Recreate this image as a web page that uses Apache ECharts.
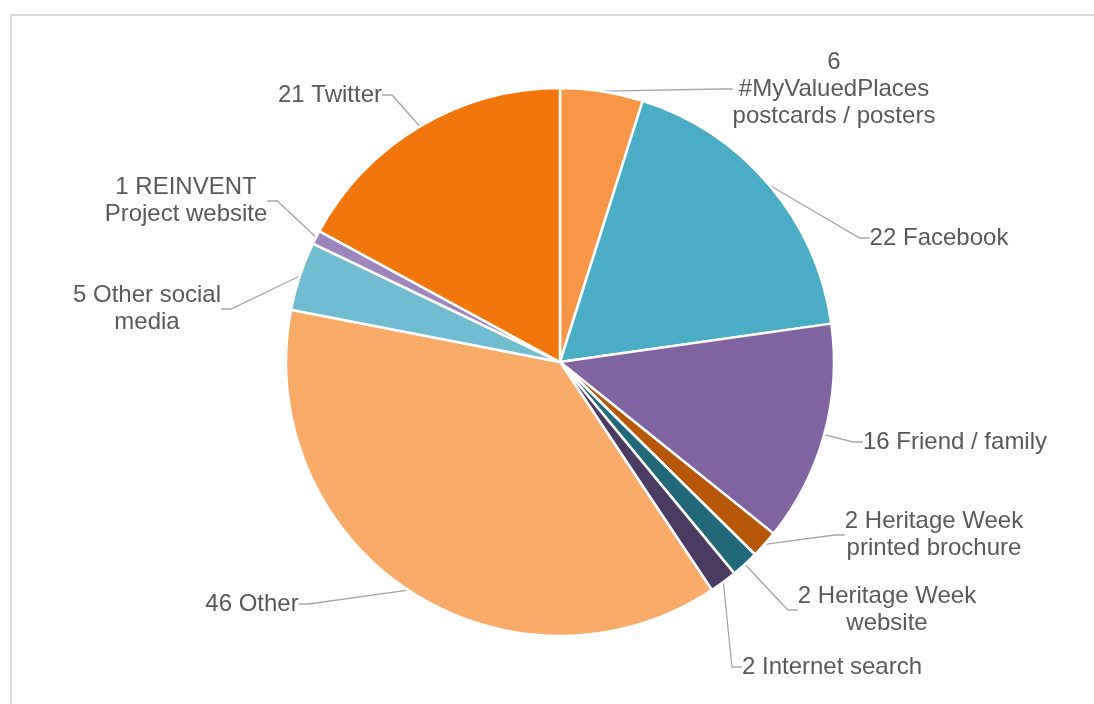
<!DOCTYPE html>
<html>
<head>
<meta charset="utf-8">
<script src="https://cdn.jsdelivr.net/npm/echarts@6/dist/echarts.min.js"></script>
<style>
  html, body { margin: 0; padding: 0; background: #fff; }
  #chart { width: 1094px; height: 704px; }
</style>
</head>
<body>
<div id="chart"></div>
<script>
// ---- data ----
const categories = [
  '#MyValuedPlaces postcards / posters',
  'Facebook',
  'Friend / family',
  'Heritage Week printed brochure',
  'Heritage Week website',
  'Internet search',
  'Other',
  'Other social media',
  'REINVENT Project website',
  'Twitter'
];
const values = [6, 22, 16, 2, 2, 2, 46, 5, 1, 21];
// label text as it wraps in the reference
const labelTexts = [
  '6\n#MyValuedPlaces\npostcards / posters',
  '22 Facebook',
  '16 Friend / family',
  '2 Heritage Week\nprinted brochure',
  '2 Heritage Week\nwebsite',
  '2 Internet search',
  '46 Other',
  '5 Other social\nmedia',
  '1 REINVENT\nProject website',
  '21 Twitter'
];

// ---- styling ----
const colors = ['#F79646', '#4BACC6', '#8064A2', '#B65708', '#23687A', '#4B3A62',
                '#F9AB6A', '#71BCD1', '#9D86BE', '#F2760A'];
const labelPos = [
  [834, 89], [939, 238], [955, 442], [934, 535], [887, 610],
  [832, 667], [252, 604], [147, 309], [186, 201], [330, 95]
];

const chart = echarts.init(document.getElementById('chart'), null, { renderer: 'canvas' });

const option = {
  backgroundColor: '#fff',
  animation: false,
  graphic: [{
    type: 'rect',
    shape: { x: 11, y: 15, width: 1200, height: 800 },
    style: { fill: 'none', stroke: '#D9D9D9', lineWidth: 2 },
    silent: true,
    z: -10
  }],
  series: [{
    type: 'pie',
    center: [560, 362],
    radius: 274,
    startAngle: 90,
    clockwise: true,
    avoidLabelOverlap: false,
    data: categories.map((c, i) => ({
      name: c,
      value: values[i],
      itemStyle: { color: colors[i] }
    })),
    itemStyle: { borderColor: '#fff', borderWidth: 2.5 },
    label: {
      show: true,
      position: 'outside',
      formatter: (p) => labelTexts[p.dataIndex],
      fontFamily: 'Liberation Sans, Arial, sans-serif',
      fontSize: 24,
      lineHeight: 27,
      color: '#595959',
      align: 'center'
    },
    labelLine: {
      show: true,
      length: 20,
      length2: 10,
      smooth: false,
      lineStyle: { color: '#A6A6A6', width: 1.3 }
    },
    labelLayout: (params) => {
      const p = labelPos[params.dataIndex];
      return { x: p[0], y: p[1], align: 'center', verticalAlign: 'middle' };
    },
    emphasis: { disabled: true }
  }]
};
chart.setOption(option);
</script>
</body>
</html>
